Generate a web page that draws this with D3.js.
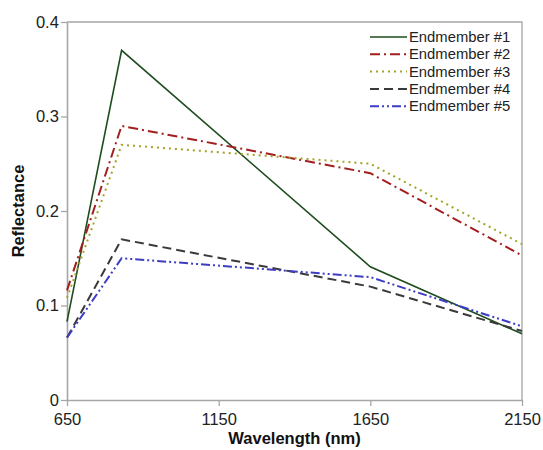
<!DOCTYPE html>
<html><head><meta charset="utf-8">
<script src="https://cdn.jsdelivr.net/npm/d3@7"></script>
<style>body{margin:0;background:#fff}svg{display:block}</style>
</head><body>
<script>
const wavelengths = [650, 830, 1650, 2150];
const seriesNames = ["Endmember #1","Endmember #2","Endmember #3","Endmember #4","Endmember #5"];
const em1 = [0.083, 0.370, 0.141, 0.070];
const em2 = [0.116, 0.290, 0.240, 0.153];
const em3 = [0.108, 0.270, 0.250, 0.165];
const em4 = [0.066, 0.170, 0.120, 0.073];
const em5 = [0.066, 0.150, 0.130, 0.078];
const xTicks = [650, 1150, 1650, 2150];
const yTicks = [0, 0.1, 0.2, 0.3, 0.4];
const yTickLabels = ["0","0.1","0.2","0.3","0.4"];

const series = [em1, em2, em3, em4, em5];
const colors = ["#1e4d1e", "#a31e1e", "#a3a325", "#3a3a3a", "#3d3dc4"];
const dashes = [null, "10,4,2,4", "2,4", "9,5", "9,3,2,3,2,3"];

const W = 543, H = 450;
const m = {l:67, r:21, t:22, b:50};
const svg = d3.select("body").append("svg").attr("width", W).attr("height", H);
const x = d3.scaleLinear().domain([650, 2150]).range([m.l, W - m.r]);
const y = d3.scaleLinear().domain([0, 0.4]).range([H - m.b, m.t]);
const axisCol = "#a6a6a6";
const font = "Arial, 'Liberation Sans', sans-serif";

// frame (top and right)
svg.append("path")
  .attr("d", `M${x(650)},${y(0.4)}H${x(2150)}V${y(0)}`)
  .attr("fill","none").attr("stroke", axisCol).attr("stroke-width",1.3);

const gx = svg.append("g").attr("transform", `translate(0,${y(0)})`)
  .call(d3.axisBottom(x).tickValues(xTicks).tickSize(6).tickSizeOuter(0).tickFormat(d3.format("d")));
const gy = svg.append("g").attr("transform", `translate(${x(650)},0)`)
  .call(d3.axisLeft(y).tickValues(yTicks).tickSize(6).tickSizeOuter(0).tickFormat((d,i)=>yTickLabels[i]));
[gx, gy].forEach(g => {
  g.select(".domain").attr("stroke", axisCol).attr("stroke-width", 1.6);
  g.selectAll(".tick line").attr("stroke", axisCol).attr("stroke-width", 1.3);
  g.selectAll("text").attr("fill","#222").attr("font-family", font).attr("font-size", 16.5);
});
gx.selectAll("text").attr("dy", "0.95em");
gy.selectAll("text").attr("dx", "0.05em");

// axis titles
svg.append("text").attr("x", (x(650)+x(2150))/2).attr("y", 444).attr("text-anchor","middle")
  .attr("font-family", font).attr("font-weight","bold").attr("font-size", 16.5).attr("fill","#111")
  .text("Wavelength (nm)");
svg.append("text").attr("transform", `translate(24,${(y(0)+y(0.4))/2}) rotate(-90)`)
  .attr("text-anchor","middle").attr("font-family", font).attr("font-weight","bold")
  .attr("font-size", 16.5).attr("fill","#111").text("Reflectance");

// lines
const line = d3.line().x((d,i)=>x(wavelengths[i])).y(d=>y(d));
series.forEach((s, k) => {
  svg.append("path").datum(s).attr("d", line).attr("fill","none")
    .attr("stroke", colors[k]).attr("stroke-width", k===0 ? 1.6 : 2)
    .attr("stroke-dasharray", dashes[k]);
});

// legend
const lg = svg.append("g");
seriesNames.forEach((n, k) => {
  const yy = 37 + k * 17.3;
  lg.append("line").attr("x1", 370).attr("x2", 407).attr("y1", yy).attr("y2", yy)
    .attr("stroke", colors[k]).attr("stroke-width", k===0 ? 1.6 : 2)
    .attr("stroke-dasharray", dashes[k]);
  lg.append("text").attr("x", 409).attr("y", yy).attr("dy","0.35em")
    .attr("font-family", font).attr("font-size", 14.8).attr("fill","#222").text(n);
});
</script>
</body></html>
